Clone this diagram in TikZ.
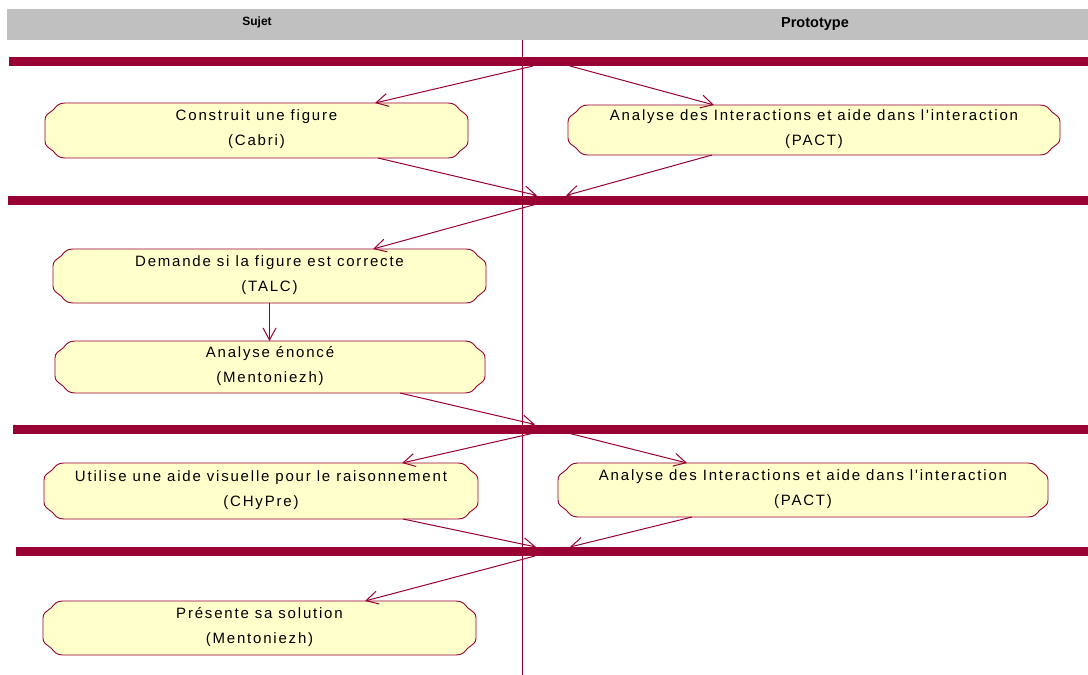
\documentclass[tikz,border=0pt]{standalone}
\usepackage{fontspec}
\setmainfont{Liberation Sans}
\newfontfamily\actfont[LetterSpace=12]{Liberation Sans}
\usetikzlibrary{arrows.meta}
\definecolor{rosered}{HTML}{990033}
\definecolor{actfill}{HTML}{FFFFCC}
\definecolor{hdrgray}{HTML}{C0C0C0}
\tikzset{
  actshape/.style={draw=rosered, fill=actfill, line width=0.9pt},
  actanchor/.style={rectangle, inner sep=0pt, outer sep=0pt},
  acttext/.style={align=center, inner sep=0pt, font=\actfont\fontsize{15pt}{25pt}\selectfont},
  syncbar/.style={rectangle, fill=rosered, inner sep=0pt, outer sep=0pt, minimum height=9pt},
  hdrbox/.style={rectangle, fill=hdrgray, inner sep=0pt, outer sep=0pt},
  hdrtext/.style={inner sep=0pt, font=\bfseries},
  lane/.style={draw=rosered, line width=1pt},
  flow/.style={draw=rosered, line width=1pt, -{Straight Barb[length=12pt,width=13pt]}},
}
\newcommand\actbox[6]{%
  \path[actshape] ({#2+20},{#3}) .. controls ({#2+13},{#3}) and ({#2+12},{#3+3}) .. ({#2+8},{#3+7})
    .. controls ({#2+3},{#3+11}) and ({#2},{#3+12}) .. ({#2},{#3+17})
    -- ({#2},{#5-17})
    .. controls ({#2},{#5-12}) and ({#2+3},{#5-11}) .. ({#2+8},{#5-7})
    .. controls ({#2+12},{#5-3}) and ({#2+13},{#5}) .. ({#2+20},{#5})
    -- ({#4-20},{#5})
    .. controls ({#4-13},{#5}) and ({#4-12},{#5-3}) .. ({#4-8},{#5-7})
    .. controls ({#4-3},{#5-11}) and ({#4},{#5-12}) .. ({#4},{#5-17})
    -- ({#4},{#3+17})
    .. controls ({#4},{#3+12}) and ({#4-3},{#3+11}) .. ({#4-8},{#3+7})
    .. controls ({#4-12},{#3+3}) and ({#4-13},{#3}) .. ({#4-20},{#3})
    -- cycle;
  \node[actanchor, minimum width={#4-#2}, minimum height={#5-#3}] (#1) at ({(#2+#4)/2},{(#3+#5)/2}) {};
  \node[acttext] (#1t) at ([yshift=1pt]#1.center) {#6};
}
\begin{document}
\begin{tikzpicture}[x=1pt, y=-1pt]
\useasboundingbox (0,0) rectangle (1088,675);
% header
\node[hdrbox, minimum width=1081pt, minimum height=31pt] (hdr) at (547.5,24.5) {};
\node[hdrtext, font=\bfseries\fontsize{12pt}{14pt}\selectfont] (sujet) at (257,22) {Sujet};
\node[hdrtext, font=\bfseries\fontsize{14.5pt}{16pt}\selectfont] (proto) at (815,24) {Prototype};
% swimlane divider
\coordinate (vtop) at (522,40);
\coordinate (vbot) at (522,675);
\draw[lane] (vtop) -- (vbot);
% activities
\actbox{cabri}{45}{103}{468}{158}{Construit une figure\\(Cabri)}
\actbox{pacta}{568}{105}{1060}{155}{Analyse des Interactions et aide dans l'interaction\\(PACT)}
\actbox{talc}{53}{249}{486}{303}{Demande si la figure est correcte\\(TALC)}
\actbox{enonce}{55}{341}{485}{393}{Analyse énoncé\\(Mentoniezh)}
\actbox{visu}{44}{463}{478}{519}{Utilise une aide visuelle pour le raisonnement\\(CHyPre)}
\actbox{pactb}{558}{463}{1048}{517}{Analyse des Interactions et aide dans l'interaction\\(PACT)}
\actbox{pres}{43}{601}{476}{655}{Présente sa solution\\(Mentoniezh)}
% synchronisation bars
\node[syncbar, minimum width=1079pt] (bar1) at (548.5,61.5) {};
\node[syncbar, minimum width=1080pt] (bar2) at (548,200) {};
\node[syncbar, minimum width=1075pt] (bar3) at (550.5,429) {};
\node[syncbar, minimum width=1072pt] (bar4) at (552,551.5) {};
% transitions
\draw[flow] ([xshift=-15.5pt]bar1.south) -- ([xshift=118.5pt]cabri.north);
\draw[flow] ([xshift=21.5pt]bar1.south) -- ([xshift=-100pt]pacta.north);
\draw[flow] ([xshift=121.5pt]cabri.south) -- ([xshift=-11pt]bar2.north);
\draw[flow] ([xshift=-102pt]pacta.south) -- ([xshift=18pt]bar2.north);
\draw[flow] ([xshift=-13pt]bar2.south) -- ([xshift=103.5pt]talc.north);
\draw[flow] (talc.south) -- (talc.south |- enonce.north);
\draw[flow] ([xshift=130pt]enonce.south) -- ([xshift=-15.5pt]bar3.north);
\draw[flow] ([xshift=-18.5pt]bar3.south) -- ([xshift=141pt]visu.north);
\draw[flow] ([xshift=19.5pt]bar3.south) -- ([xshift=-116pt]pactb.north);
\draw[flow] ([xshift=142pt]visu.south) -- ([xshift=-16pt]bar4.north);
\draw[flow] ([xshift=-111pt]pactb.south) -- ([xshift=18pt]bar4.north);
\draw[flow] ([xshift=-17pt]bar4.south) -- ([xshift=105.5pt]pres.north);
\end{tikzpicture}
\end{document}
